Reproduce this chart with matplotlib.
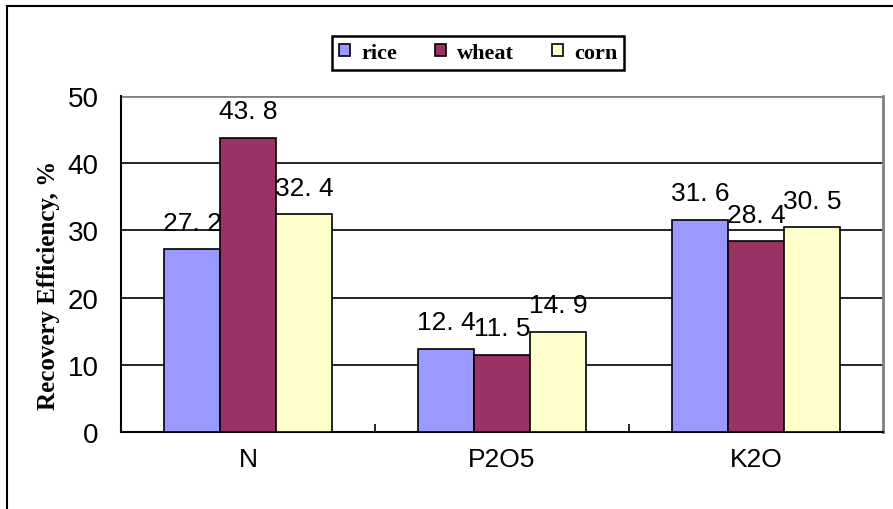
import numpy as np
import matplotlib
matplotlib.use("Agg")
import matplotlib.pyplot as plt
from matplotlib.lines import Line2D

# ======= data =======
categories = ["N", "P2O5", "K2O"]
series = ["rice", "wheat", "corn"]
rice = [27.2, 12.4, 31.6]
wheat = [43.8, 11.5, 28.4]
corn = [32.4, 14.9, 30.5]
colors = ["#9999FF", "#993366", "#FFFFCC"]

fig = plt.figure(figsize=(8.93, 5.10), dpi=100)
ax = fig.add_axes([121/893, 1-433/510, (883-121)/893, (433-97)/510])

x = np.arange(len(categories))
w = 0.22
for i, (name, vals) in enumerate(zip(series, [rice, wheat, corn])):
    pos = x + (i - 1) * w
    ax.bar(pos, vals, width=w, color=colors[i], edgecolor="black",
           linewidth=1.2, label=name, zorder=3)
    for px, v in zip(pos, vals):
        ax.annotate(f"{v:.1f}".replace(".", ". "), (px, v),
                    xytext=(0, 14), textcoords="offset points",
                    ha="center", va="baseline", fontsize=19,
                    family="Liberation Sans", zorder=4)

ax.set_xlim(-0.5, 2.5)
ax.set_ylim(0, 50)
ax.set_yticks([0, 10, 20, 30, 40, 50])
for yv in [10, 20, 30, 40]:
    ax.axhline(yv, color="black", lw=1.2, zorder=1)
ax.axhline(50, color="#808080", lw=2, zorder=1)

ax.spines["top"].set_visible(False)
ax.spines["right"].set_color("#808080")
ax.spines["right"].set_linewidth(2)
ax.spines["left"].set_linewidth(1.5)
ax.spines["bottom"].set_linewidth(1.5)

ax.set_xticks(x)
ax.set_xticklabels(categories, family=["Liberation Sans Narrow", "Liberation Sans"],
                   fontsize=19)
ax.set_xticks([0.5, 1.5], minor=True)
ax.tick_params(axis="x", which="major", length=0, pad=11)
ax.tick_params(axis="x", which="minor", direction="in", length=6, width=1.2)
ax.tick_params(axis="y", length=0, pad=16, labelsize=20)
for t in ax.get_yticklabels():
    t.set_family("Liberation Sans")

fig.text(49/893, 1-285/510, "Recovery Efficiency, %", rotation=90,
         ha="center", va="center", family="Liberation Serif",
         fontweight="bold", fontsize=18)

leg = fig.legend(loc="center", bbox_to_anchor=(478/893, 1-54/510), ncol=3,
                 prop={"family": "Liberation Serif", "weight": "bold", "size": 16},
                 handlelength=0.5, handleheight=0.5, handletextpad=0.5,
                 columnspacing=1.7, fancybox=False, borderpad=0.3,
                 framealpha=1)
leg.get_frame().set_edgecolor("black")
leg.get_frame().set_linewidth(1.8)

# outer chart border (left and top visible)
fig.add_artist(Line2D([7/893, 7/893], [0, 1-7/510], color="black", lw=1.5,
                      transform=fig.transFigure))
fig.add_artist(Line2D([7/893, 1], [1-7/510, 1-7/510], color="black", lw=1.5,
                      transform=fig.transFigure))

fig.savefig("out.png", dpi=100)
